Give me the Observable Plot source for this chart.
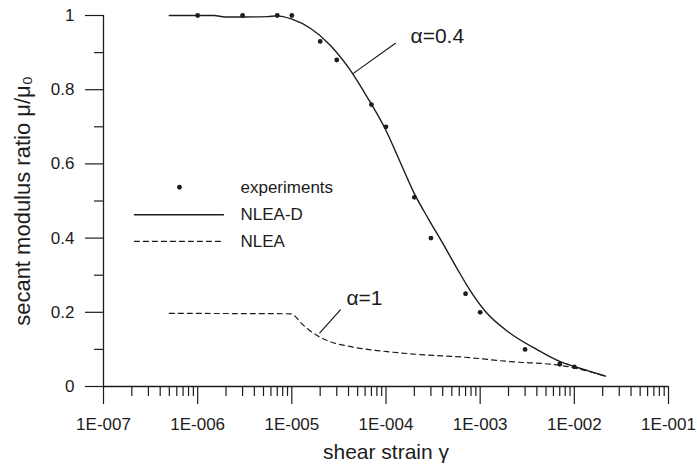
<!DOCTYPE html>
<html><head><meta charset="utf-8">
<script src="https://cdn.jsdelivr.net/npm/d3@7"></script>
<script src="https://cdn.jsdelivr.net/npm/@observablehq/plot@0.6"></script>
<style>html,body{margin:0;padding:0;background:#fff} svg{display:block}</style>
</head><body><div id="chart"></div>
<script>
// experiments
const expStrain = [1e-6, 3e-6, 7e-6, 1e-5, 2e-5, 3e-5, 7e-5, 1e-4, 2e-4, 3e-4, 7e-4, 1e-3, 3e-3, 7e-3, 1e-2];
const expRatio  = [1.0, 1.0, 1.0, 1.0, 0.93, 0.88, 0.76, 0.70, 0.51, 0.40, 0.25, 0.20, 0.10, 0.06, 0.053];
// NLEA-D (alpha = 0.4)
const nleaDStrain = [5e-7, 1e-6, 1.5e-6, 1.95e-6, 3e-6, 5.5e-6, 6.92e-6, 1e-5, 1.585e-5, 2.512e-5, 3.981e-5, 6.31e-5, 1e-4, 1.413e-4, 2e-4, 2.818e-4, 3.981e-4, 5.623e-4, 8e-4, 1.156e-3, 1.995e-3, 3.981e-3, 7.08e-3, 1e-2, 1.413e-2, 2.138e-2];
const nleaDRatio  = [1.0, 1.0, 1.0, 0.996, 0.996, 0.997, 0.999, 0.99, 0.965, 0.922, 0.86, 0.78, 0.69, 0.605, 0.52, 0.452, 0.387, 0.32, 0.255, 0.2, 0.147, 0.10, 0.067, 0.054, 0.042, 0.028];
// NLEA (alpha = 1)
const nleaStrain = [5e-7, 9.67e-6, 1.34e-5, 1.71e-5, 2.37e-5, 4.54e-5, 1.03e-4, 2.32e-4, 6.68e-4, 2.09e-3, 7.1e-3, 2.138e-2];
const nleaRatio  = [0.197, 0.196, 0.164, 0.143, 0.124, 0.106, 0.094, 0.086, 0.079, 0.067, 0.057, 0.028];
// ticks
const xTickValues = [1e-7, 1e-6, 1e-5, 1e-4, 1e-3, 1e-2, 1e-1];
const xTickLabels = ["1E-007", "1E-006", "1E-005", "1E-004", "1E-003", "1E-002", "1E-001"];
const yTickValues = [0, 0.2, 0.4, 0.6, 0.8, 1];
const yTickLabels = ["0", "0.2", "0.4", "0.6", "0.8", "1"];
const yMinorTicks = [0.1, 0.3, 0.5, 0.7, 0.9];
const xMinorTicks = xTickValues.slice(0, -1).flatMap(d => [2,3,4,5,6,7,8,9].map(k => d * k));
// texts
const xTitle = "shear strain γ";
const yTitle = "secant modulus ratio μ/μ₀";
const legendLabels = ["experiments", "NLEA-D", "NLEA"];
const annotations = [
  {text: "α=0.4", x: 1.82e-4, y: 0.945},
  {text: "α=1", x: 3.8e-5, y: 0.237}
];
const leaders = [
  [{x: 1.26e-4, y: 0.925}, {x: 4.5e-5, y: 0.844}],
  [{x: 3.28e-5, y: 0.2067}, {x: 1.98e-5, y: 0.1447}]
];
// legend layout (data coords)
const legendLine = {x1: 2.13e-7, x2: 1.88e-6, dotX: 6.41e-7, textX: 2.85e-6, ys: [0.537, 0.463, 0.391]};

const ink = "#1c1c1c";
const exp = expStrain.map((x, i) => ({x, y: expRatio[i]}));
const nleaD = nleaDStrain.map((x, i) => ({x, y: nleaDRatio[i]}));
const nlea = nleaStrain.map((x, i) => ({x, y: nleaRatio[i]}));

const plot = Plot.plot({
  width: 697, height: 466,
  marginLeft: 103, marginRight: 29, marginTop: 15, marginBottom: 80,
  style: {fontFamily: "'Liberation Sans', Arial, sans-serif", fontSize: "17px", color: ink, background: "#fff"},
  x: {type: "log", domain: [1e-7, 1e-1]},
  y: {domain: [0, 1]},
  marks: [
    Plot.axisX({ticks: xMinorTicks, tickSize: 10, tickFormat: () => "", label: null, strokeWidth: 1.2}),
    Plot.axisX({ticks: xTickValues, tickSize: 18, tickPadding: 13, tickFormat: d => xTickLabels[xTickValues.findIndex(v => Math.abs(v - d) / v < 1e-6)], label: null, strokeWidth: 1.2, fontSize: 17}),
    Plot.axisY({ticks: yMinorTicks, tickSize: 9, tickFormat: () => "", label: null, strokeWidth: 1.2}),
    Plot.axisY({ticks: yTickValues, tickSize: 18, tickPadding: 11, tickFormat: d => yTickLabels[yTickValues.indexOf(d)], label: null, strokeWidth: 1.2, fontSize: 17}),
    Plot.ruleY([0], {stroke: ink, strokeWidth: 1.3}),
    Plot.ruleX([1e-7], {stroke: ink, strokeWidth: 1.3}),
    Plot.line(nlea, {x: "x", y: "y", curve: "monotone-x", stroke: ink, strokeWidth: 1.2, strokeDasharray: "5,4"}),
    Plot.line(nleaD, {x: "x", y: "y", curve: "monotone-x", stroke: ink, strokeWidth: 1.4}),
    Plot.dot(exp, {x: "x", y: "y", r: 2.4, fill: ink, stroke: null}),
    ...leaders.map(l => Plot.line(l, {x: "x", y: "y", stroke: ink, strokeWidth: 1.2})),
    Plot.text(annotations, {x: "x", y: "y", text: "text", textAnchor: "start", fontSize: 21, fill: ink}),
    // legend
    Plot.dot([{x: legendLine.dotX, y: legendLine.ys[0]}], {x: "x", y: "y", r: 2.4, fill: ink, stroke: null}),
    Plot.line([{x: legendLine.x1, y: legendLine.ys[1]}, {x: legendLine.x2, y: legendLine.ys[1]}], {x: "x", y: "y", stroke: ink, strokeWidth: 1.4}),
    Plot.line([{x: legendLine.x1, y: legendLine.ys[2]}, {x: legendLine.x2, y: legendLine.ys[2]}], {x: "x", y: "y", stroke: ink, strokeWidth: 1.2, strokeDasharray: "5,4"}),
    Plot.text(legendLabels.map((t, i) => ({t, y: legendLine.ys[i]})), {x: () => legendLine.textX, y: "y", text: "t", textAnchor: "start", fontSize: 17, fill: ink}),
    // titles
    Plot.text([xTitle], {frameAnchor: "bottom", dy: 66, textAnchor: "middle", lineAnchor: "middle", fontSize: 21, fill: ink}),
    Plot.text([yTitle], {frameAnchor: "left", dx: -81, rotate: -90, textAnchor: "middle", lineAnchor: "middle", fontSize: 22, fill: ink})
  ]
});
document.getElementById("chart").append(plot);
</script>
</body></html>
